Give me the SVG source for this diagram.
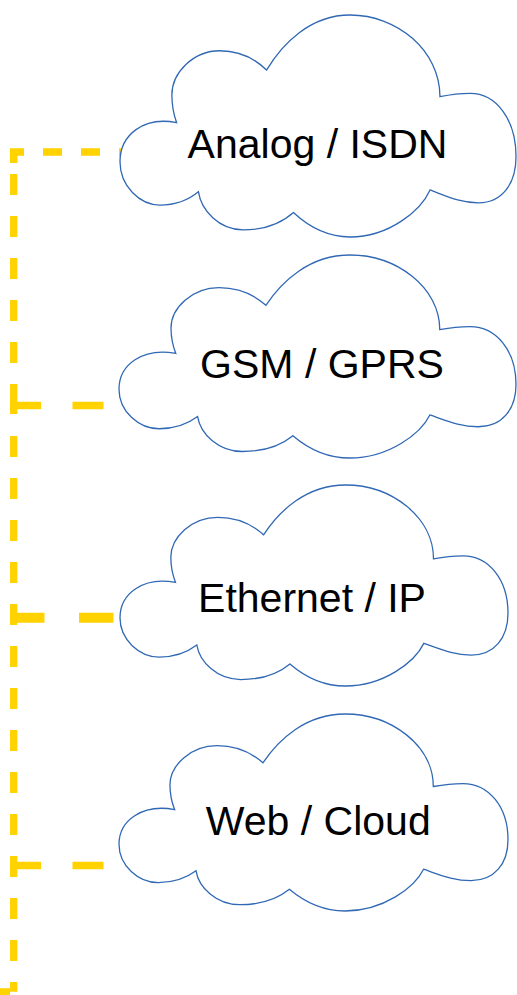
<svg xmlns="http://www.w3.org/2000/svg" xmlns:xlink="http://www.w3.org/1999/xlink" width="517" height="995" viewBox="0 0 517 995">
  <style>
    .conn { fill: none; stroke: #FFD200; stroke-linejoin: miter; stroke-linecap: butt; }
    .label { font-family: "Liberation Sans", Arial, sans-serif; font-size: 41px; fill: #000000; text-anchor: middle; }
  </style>
  <defs>
    <path id="cloud" fill="#FFFFFF" stroke="#3068B4" stroke-width="1.3" vector-effect="non-scaling-stroke"
      d="M143,485 C60,455 0,540 0,661 C0,770 50,856 101,856 C140,856 175,830 198,796 C205,880 250,968 311,968 C370,968 410,935 438,890 C480,960 530,1000 581,1000 C680,1000 760,880 783,788 C830,820 860,846 905,846 C965,846 1000,760 1000,638 C1000,470 950,353 884,353 C855,353 830,360 808,368 C808,160 700,0 581,0 C480,0 410,130 370,248 C340,195 300,161 252,161 C185,161 131,260 131,360 C131,410 136,450 143,485 Z"/>
  </defs>
  <rect width="517" height="995" fill="#FFFFFF"/>
  <g id="connectors">
    <path class="conn" stroke-width="7.6" stroke-dasharray="19 19 19 19 19 19 100" d="M138,152 H13.7 V163"/>
    <path class="conn" stroke-width="7.3" stroke-dasharray="21 21 21 21 21 21 21 21 21 21 30 100" d="M13.7,174 V414"/>
    <path class="conn" stroke-width="7.3" stroke-dasharray="21 21" d="M13.7,436 V991.7"/>
    <path class="conn" stroke-width="7" d="M10,991.7 H-5"/>
    <path class="conn" stroke-width="7.6" stroke-dasharray="31 31.5" d="M10,405.5 H140"/>
    <path class="conn" stroke-width="10" stroke-dasharray="34.5 34.5" d="M10,617.7 H125"/>
    <path class="conn" stroke-width="7.6" stroke-dasharray="31 31.5" d="M10,865.5 H140"/>
  </g>
  <g id="cloud-analog">
    <use xlink:href="#cloud" transform="translate(120,15) scale(0.396,0.222)"/>
    <text class="label" x="317.5" y="158.3">Analog / ISDN</text>
  </g>
  <g id="cloud-gsm">
    <use xlink:href="#cloud" transform="translate(119,255) scale(0.397,0.203)"/>
    <text class="label" x="322" y="377.7">GSM / GPRS</text>
  </g>
  <g id="cloud-ethernet">
    <use xlink:href="#cloud" transform="translate(120,485) scale(0.388,0.201)"/>
    <text class="label" x="312" y="612.3">Ethernet / IP</text>
  </g>
  <g id="cloud-web">
    <use xlink:href="#cloud" transform="translate(119,714) scale(0.389,0.197)"/>
    <text class="label" x="318.3" y="835">Web / Cloud</text>
  </g>
</svg>
